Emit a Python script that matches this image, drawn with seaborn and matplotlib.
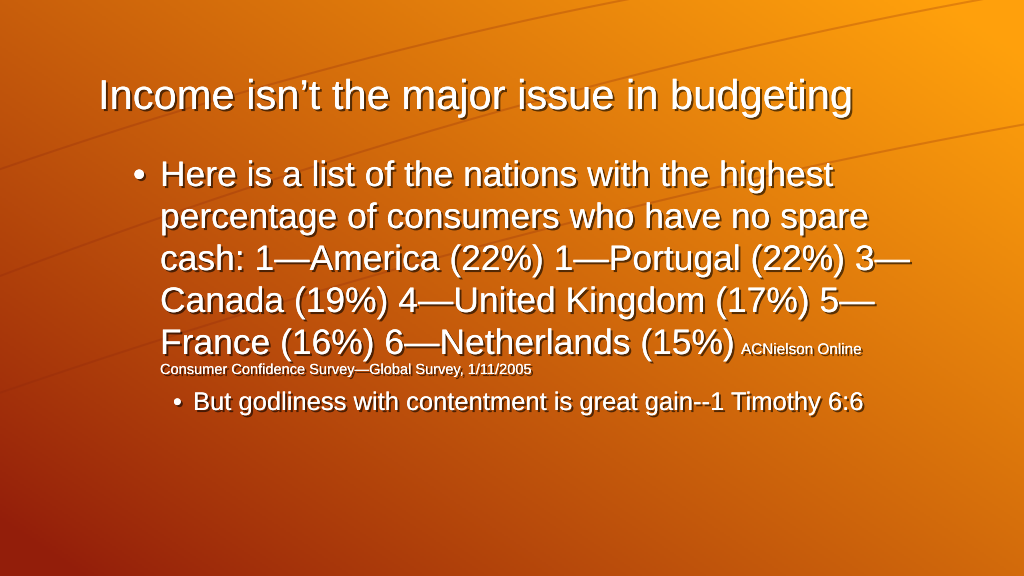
import numpy as np
import matplotlib
matplotlib.use("Agg")
import matplotlib.pyplot as plt
import matplotlib.patheffects as pe
import seaborn as sns

ranks = ["1", "1", "3", "4", "5", "6"]
countries = ["America", "Portugal", "Canada", "United Kingdom", "France", "Netherlands"]
values = [22, 22, 19, 17, 16, 15]
title = "Income isn\u2019t the major issue in budgeting"
intro = ["Here is a list of the nations with the highest",
         "percentage of consumers who have no spare"]
source_a = "ACNielson Online"
source_b = "Consumer Confidence Survey\u2014Global Survey, 1/11/2005"
sub_bullet = "But godliness with contentment is great gain--1 Timothy 6:6"

sns.set_theme(style="white")
plt.rcParams['font.family'] = ['Liberation Sans', 'DejaVu Sans']

fig = plt.figure(figsize=(10.24, 5.76), dpi=100)
ax = fig.add_axes([0, 0, 1, 1])
ax.set_xlim(0, 1024); ax.set_ylim(576, 0); ax.axis('off')

# background gradient: dark red bottom-left to bright orange top-right
yy, xx = np.mgrid[0:1:288j, 0:1:512j]
t = np.clip(0.6 * xx + 0.5 * (1 - yy) - 0.05, 0, 1)
t = t ** 0.9
c0 = np.array([0.58, 0.12, 0.04]); c1 = np.array([1.0, 0.63, 0.05])
img = c0 + (c1 - c0) * t[..., None]
ax.imshow(img, extent=[0, 1024, 576, 0], aspect='auto', zorder=0)
# faint track curves
xs = np.linspace(0, 1024, 200)
for a, b, c in [(150, 0.00012, -0.25), (260, 0.0001, -0.3), (380, 0.00008, -0.28)]:
    ax.plot(xs, a + c * xs + b * (xs - 400) ** 2, color=(0.55, 0.15, 0.05), alpha=0.25, lw=1.5, zorder=1)

shadow = [pe.withSimplePatchShadow(offset=(1.5, -1.5), shadow_rgbFace='black', alpha=0.6), pe.Normal()]
def txt(x, y, s, size):
    ax.text(x, y, s, fontsize=size, color='white', va='baseline', ha='left', path_effects=shadow, zorder=5)

items = [f"{r}\u2014{c} ({v}%)" for r, c, v in zip(ranks, countries, values)]
txt(98, 109, title, 30)
txt(133, 186, "\u2022", 25.5)
txt(160, 186, intro[0], 25.5)
txt(160, 228, intro[1], 25.5)
txt(160, 270, "cash: " + items[0] + " " + items[1] + " " + f"{ranks[2]}\u2014", 25.5)
txt(160, 312, f"{countries[2]} ({values[2]}%) " + items[3] + f" {ranks[4]}\u2014", 25.5)
line5 = f"{countries[4]} ({values[4]}%) " + items[5]
txt(160, 354, line5, 25.5)
txt(741, 354, source_a, 11)
txt(160, 374, source_b, 10.5)
txt(173, 410, "\u2022", 18)
txt(193, 410, sub_bullet, 18.4)

fig.savefig("out.png", dpi=100)
